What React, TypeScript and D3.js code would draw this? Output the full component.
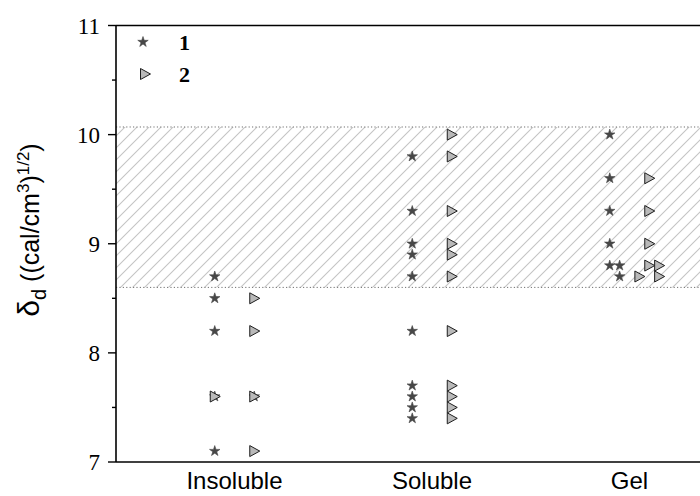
import React from "react";
import * as d3 from "d3";

const categories = ["Insoluble", "Soluble", "Gel"];
const categoryX = [1.1, 2.1, 3.1];
const yTicks = [7, 8, 9, 10, 11];
const yMinorTicks = [7.5, 8.5, 9.5, 10.5];

// series 1 (stars)
const s1X = [1, 1, 1, 1, 1.2, 1, 2, 2, 2, 2, 2, 2, 2, 2, 2, 2, 3, 3, 3, 3, 3, 3.05, 3.05];
const s1Y = [8.7, 8.5, 8.2, 7.6, 7.6, 7.1, 9.8, 9.3, 9.0, 8.9, 8.7, 8.2, 7.7, 7.6, 7.5, 7.4, 10.0, 9.6, 9.3, 9.0, 8.8, 8.8, 8.7];
// series 2 (triangles)
const s2X = [1.2, 1.2, 1.2, 1, 1.2, 2.2, 2.2, 2.2, 2.2, 2.2, 2.2, 2.2, 2.2, 2.2, 2.2, 2.2, 3.2, 3.2, 3.2, 3.2, 3.25, 3.15, 3.25];
const s2Y = [8.5, 8.2, 7.6, 7.6, 7.1, 10.0, 9.8, 9.3, 9.0, 8.9, 8.7, 8.2, 7.7, 7.6, 7.5, 7.4, 9.6, 9.3, 9.0, 8.8, 8.8, 8.7, 8.7];

const bandLow = 8.6;
const bandHigh = 10.07;
const legendLabels = ["1", "2"];

const W = 700;
const H = 496;
const left = 116;
const right = 708.5;
const top = 25.5;
const bottom = 462;

export default function App() {
  const x = d3.scaleLinear().domain([0.5, 3.5]).range([left, right]);
  const y = d3.scaleLinear().domain([7, 11]).range([bottom, top]);
  const star = d3.symbol().type(d3.symbolStar).size(34)() as string;
  const tri = "M-4.5,-5.5L5.5,0L-4.5,5.5Z";
  const starFill = "#474747";
  const triFill = "#b9b9b9";

  return (
    <svg width={W} height={H} style={{ position: "absolute", left: 0, top: 0, display: "block" }}>
      <defs>
        <pattern id="hatch" patternUnits="userSpaceOnUse" width={12} height={12}>
          <path d="M0,12L12,0M-3,3L3,-3M9,15L15,9" stroke="#c4c4c4" strokeWidth={1.1} />
        </pattern>
        <clipPath id="plot">
          <rect x={left} y={top} width={right - left} height={bottom - top} />
        </clipPath>
      </defs>
      <rect width={W} height={H} fill="white" />
      <g clipPath="url(#plot)">
        <rect x={left} y={y(bandHigh)} width={right - left} height={y(bandLow) - y(bandHigh)} fill="url(#hatch)" />
        <line x1={left} x2={right} y1={y(bandHigh)} y2={y(bandHigh)} stroke="#707070" strokeWidth={1} strokeDasharray="1.2,2.2" />
        <line x1={left} x2={right} y1={y(bandLow)} y2={y(bandLow)} stroke="#707070" strokeWidth={1} strokeDasharray="1.2,2.2" />
        {s1X.map((v, i) => (
          <path key={"s" + i} d={star} transform={`translate(${x(v)},${y(s1Y[i])})`} fill={starFill} stroke={starFill} strokeWidth={0.6} />
        ))}
        {s2X.map((v, i) => (
          <path key={"t" + i} d={tri} transform={`translate(${x(v)},${y(s2Y[i])})`} fill={triFill} stroke="#1e1e1e" strokeWidth={1} />
        ))}
      </g>
      {/* frame */}
      <line x1={left} x2={right} y1={top} y2={top} stroke="#000" strokeWidth={1.6} />
      <line x1={left} x2={right} y1={bottom} y2={bottom} stroke="#000" strokeWidth={1.6} />
      <line x1={left} x2={left} y1={top} y2={bottom} stroke="#000" strokeWidth={1.6} />
      {yTicks.map((t) => (
        <g key={"yt" + t}>
          <line x1={left - 8} x2={left} y1={y(t)} y2={y(t)} stroke="#000" strokeWidth={1.4} />
          <text x={100} y={y(t)} dy="0.35em" textAnchor="end" fontFamily="'Liberation Serif', 'Times New Roman', serif" fontSize={23}>
            {t}
          </text>
        </g>
      ))}
      {yMinorTicks.map((t) => (
        <line key={"ym" + t} x1={left - 4} x2={left} y1={y(t)} y2={y(t)} stroke="#000" strokeWidth={1.4} />
      ))}
      {categories.map((c, i) => (
        <text key={c} x={x(categoryX[i])} y={489} textAnchor="middle" fontFamily="'Liberation Sans', Arial, sans-serif" fontSize={24}>
          {c}
        </text>
      ))}
      {/* y title */}
      <text
        transform={`translate(39,230) rotate(-90)`}
        textAnchor="middle"
        fontFamily="'Liberation Sans', Arial, sans-serif"
        fontSize={25}
      >
        <tspan fontSize={30}>δ</tspan>
        <tspan fontSize={20} dy={7}>d</tspan>
        <tspan dy={-7}> ((cal/cm</tspan>
        <tspan fontSize={17} dy={-10}>3</tspan>
        <tspan dy={10}>)</tspan>
        <tspan fontSize={17} dy={-10}>1/2</tspan>
        <tspan dy={10}>)</tspan>
      </text>
      {/* legend */}
      <path d={star} transform={`translate(143,42)`} fill={starFill} stroke={starFill} strokeWidth={0.6} />
      <path d={tri} transform={`translate(145,74)`} fill={triFill} stroke="#1e1e1e" strokeWidth={1} />
      {legendLabels.map((l, i) => (
        <text key={l} x={179} y={50 + i * 32} fontFamily="'Liberation Serif', 'Times New Roman', serif" fontWeight="bold" fontSize={22}>
          {l}
        </text>
      ))}
    </svg>
  );
}
